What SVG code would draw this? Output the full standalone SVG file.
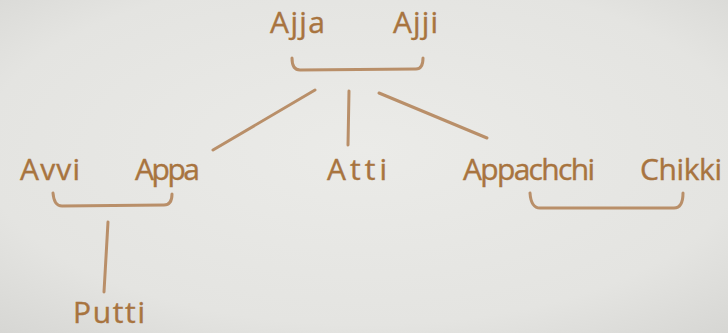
<svg xmlns="http://www.w3.org/2000/svg" width="728" height="333" viewBox="0 0 728 333">
<defs>
<radialGradient id="bg" cx="50%" cy="45%" r="75%">
<stop offset="0" stop-color="#ebebe8"/>
<stop offset="0.7" stop-color="#e4e4e1"/>
<stop offset="1" stop-color="#d6d6d3"/>
</radialGradient>
<style>
.t{font-family:"Open Sans","Liberation Sans",sans-serif;font-size:30px;fill:#a8743f;stroke:#a8743f;stroke-width:0.4;}
.c{fill:none;stroke:#b98f69;stroke-width:3;stroke-linecap:round;stroke-linejoin:round;}
</style>
</defs>
<rect width="728" height="333" fill="url(#bg)"/>
<g id="connectors">
<path class="c" d="M292,58 Q292,70 300,70 L416,69 Q423,69 423,58"/>
<path class="c" d="M315,90 L213,150"/>
<path class="c" d="M349,91 L348,145"/>
<path class="c" d="M379,93 L487,138"/>
<path class="c" d="M53,193 Q54,206 62,206 L164,205 Q172,205 172,194"/>
<path class="c" d="M108,222 L104,292"/>
<path class="c" d="M530,193 Q531,208 540,208 L674,208 Q683,208 683,193"/>
</g>
<g id="ajja"><text class="t" x="270" y="33" textLength="55" lengthAdjust="spacing">Ajja</text></g>
<g id="ajji"><text class="t" x="393" y="33" textLength="45" lengthAdjust="spacing">Ajji</text></g>
<g id="avvi"><text class="t" x="20" y="180" textLength="60" lengthAdjust="spacing">Avvi</text></g>
<g id="appa"><text class="t" x="135" y="180" textLength="65" lengthAdjust="spacing">Appa</text></g>
<g id="atti"><text class="t" x="327" y="180" textLength="60" lengthAdjust="spacing">Atti</text></g>
<g id="appachchi"><text class="t" x="463" y="180" textLength="132" lengthAdjust="spacing">Appachchi</text></g>
<g id="chikki"><text class="t" x="640" y="180" textLength="82" lengthAdjust="spacing">Chikki</text></g>
<g id="putti"><text class="t" x="73" y="323" textLength="72" lengthAdjust="spacing">Putti</text></g>
</svg>
